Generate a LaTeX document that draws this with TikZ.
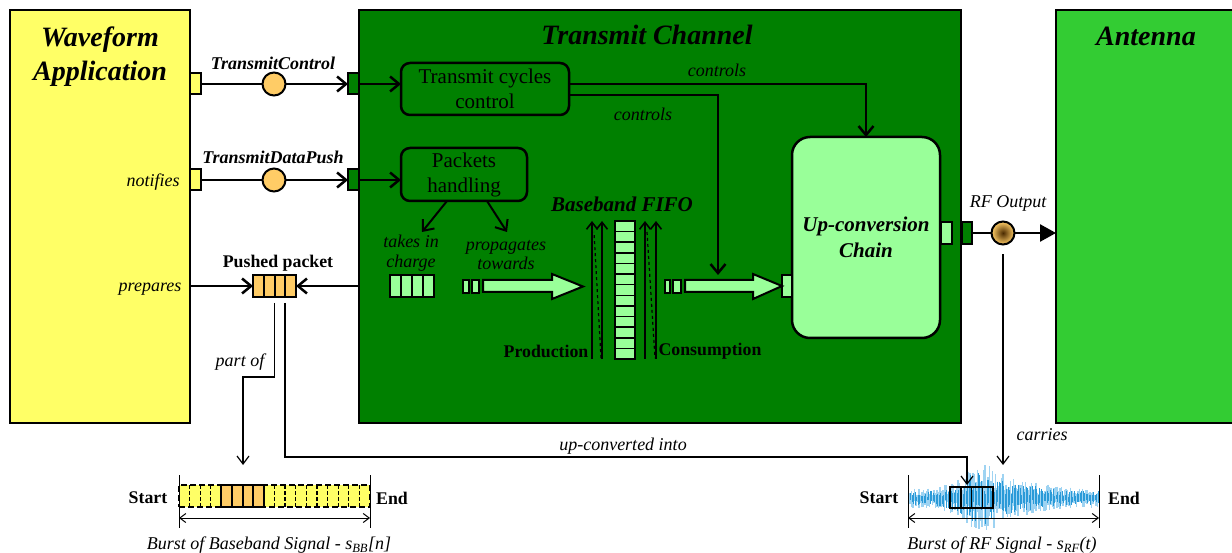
\documentclass[tikz,border=0pt]{standalone}
\usepackage{fontspec}
\setmainfont{Liberation Serif}
\usetikzlibrary{arrows.meta}
\definecolor{wayel}{HTML}{FFFF66}
\definecolor{tcgreen}{HTML}{008000}
\definecolor{antgreen}{HTML}{33CC33}
\definecolor{lgreen}{HTML}{99FF99}
\definecolor{pkorange}{HTML}{FFCC66}
\definecolor{wave}{HTML}{2A9AD8}
\definecolor{wavelight}{HTML}{9ED3F2}
\definecolor{rfdark}{HTML}{4A2A00}
\newcommand{\fsz}[2]{\fontsize{#1}{#2}\selectfont}
\begin{document}
\begin{tikzpicture}[x=1pt,y=-1pt,
  box/.style={draw, line width=2.5pt, inner sep=0pt, outer sep=0pt},
  rbox/.style={draw, line width=2.5pt, rounded corners=9pt, inner sep=0pt, outer sep=0pt, align=center, font=\fsz{21}{25}},
  port/.style={draw, line width=2pt, inner sep=0pt, outer sep=0pt, minimum width=11pt, minimum height=21pt},
  iface/.style={circle, draw, line width=2pt, fill=pkorange, minimum size=23pt, inner sep=0pt},
  conn/.style={line width=2.5pt, -{Straight Barb[length=9pt,width=15pt]}},
  thinarr/.style={line width=1.2pt, -{Straight Barb[length=8pt,width=12pt]}},
  fifoarr/.style={line width=1.6pt, -{Straight Barb[length=7pt,width=11pt]}},
  dimarr/.style={line width=1pt, {Straight Barb[length=6pt,width=9pt]}-{Straight Barb[length=6pt,width=9pt]}},
  pktbox/.style={draw, line width=2pt, inner sep=0pt, outer sep=0pt},
  title/.style={font=\fsz{28}{34}\bfseries\itshape, align=center, inner sep=0pt},
  lbl/.style={font=\fsz{18}{19.5}\itshape, align=center, inner sep=0pt},
  blbl/.style={font=\fsz{18}{20}\bfseries\itshape, inner sep=0pt},
  bl/.style={font=\fsz{17.8}{20}\bfseries, inner sep=0pt},
  bigarrow/.style={draw, line width=2pt, fill=lgreen, line join=miter},
]
\useasboundingbox (0,0) rectangle (1232,553);
\clip (0,0) rectangle (1232,553);
\fill[white] (0,0) rectangle (1232,553);

% main boxes
\node[box, fill=wayel, minimum width=180pt, minimum height=413pt] (wa) at (100,216.5) {};
\node[box, fill=tcgreen, minimum width=602pt, minimum height=413pt] (tc) at (660,216.5) {};
\node[box, fill=antgreen, minimum width=200pt, minimum height=413pt] (ant) at (1156,216.5) {};
\node[title] (waT) at (100,57) {Waveform\\Application};
\node[title, anchor=base] (tcT) at (647,45) {Transmit Channel};
\node[title, anchor=base] (antT) at (1146,46) {Antenna};

% inner boxes
\node[rbox, minimum width=168pt, minimum height=52pt] (tcc) at (485,89) {Transmit cycles\\control};
\node[rbox, minimum width=126pt, minimum height=53pt] (ph) at (464,174.5) {Packets\\handling};
\node[rbox, fill=lgreen, rounded corners=18pt, minimum width=148pt, minimum height=201pt, font=\fsz{21}{26}\bfseries\itshape] (ucc) at (866,237.5) {Up-conversion\\Chain};

% ports
\node[port, fill=wayel] (wp1) at (195.5,84) {};
\node[port, fill=wayel] (wp2) at (195.5,180) {};
\node[port, fill=tcgreen] (tp1) at (353.5,84) {};
\node[port, fill=tcgreen] (tp2) at (353.5,180) {};
\node[port, fill=lgreen, minimum width=10pt, minimum height=22pt] (upin) at (787,286) {};
\node[port, fill=lgreen, minimum height=22pt] (upout) at (946.5,233) {};
\node[port, fill=tcgreen, minimum width=10pt, minimum height=22pt] (tpout) at (967,233) {};

% interfaces
\draw[conn] (wp1.east) -- (tp1.west);
\draw[conn] (wp2.east) -- (tp2.west);
\node[iface] (ic1) at (274,84) {};
\node[iface] (ic2) at (274,180) {};
\node[blbl] (lTC) at (273,63) {TransmitControl};
\node[blbl] (lTDP) at (273,157) {TransmitDataPush};
\node[lbl] (lnot) at (153,182) {notifies};
\node[lbl] (lprep) at (150,289) {prepares};

\draw[conn] (tp1.east) -- (tp1.east -| tcc.west);
\draw[conn] (tp2.east) -- (tp2.east -| ph.west);

% controls
\coordinate (ctrl2) at (718,275);
\draw[conn] ([yshift=5pt]tcc.east) -| (ucc.north);
\draw[conn] ([yshift=-6pt]tcc.east) -| (ctrl2);
\node[lbl] (lc1) at (717,70) {controls};
\node[lbl] (lc2) at (643,114) {controls};

% pushed packet
\node[pktbox, fill=pkorange, minimum width=43pt, minimum height=22pt] (pp) at (274.5,286) {};
\foreach \k in {1,2,3} \draw[line width=2pt] ({253+\k*10.75},275) -- ({253+\k*10.75},297);
\node[bl] (lpp) at (278,263) {Pushed packet};
\draw[conn] (wa.east |- pp) -- (pp.west);
\draw[conn] (tc.west |- pp) -- (pp.east);

% packets handling outputs
\coordinate (takeend) at (422,232);
\coordinate (propend) at (507,232);
\draw[conn, line width=2pt] ([xshift=-17pt]ph.south) -- (takeend);
\draw[conn, line width=2pt] ([xshift=23pt]ph.south) -- (propend);
\node[lbl] (ltake) at (411,253) {takes in\\charge};
\node[lbl] (lprop) at (506,255) {propagates\\towards};

% small packet
\node[pktbox, fill=lgreen, minimum width=44pt, minimum height=22pt] (tic) at (412,286) {};
\foreach \k in {1,2,3} \draw[line width=2pt] ({390+\k*11},275) -- ({390+\k*11},297);

% samples + big arrow 1
\draw[line width=1.6pt, fill=lgreen] (463,280) rectangle (469,293);
\draw[line width=1.6pt, fill=lgreen] (472,280) rectangle (479,293);
\draw[bigarrow] (483,280) -- (552,280) -- (552,274) -- (583,286.5) -- (552,299) -- (552,292) -- (483,292) -- cycle;

% FIFO
\node[pktbox, line width=1.5pt, fill=lgreen, minimum width=20pt, minimum height=138pt] (fifo) at (625,290) {};
\foreach \k in {1,...,12} \draw[line width=1.5pt] (615,{221+\k*138/13}) -- (635,{221+\k*138/13});
\node[blbl, font=\fsz{21}{24}\bfseries\itshape] (lfifo) at (622,204) {Baseband FIFO};
\draw[fifoarr] (592,359) -- (592,221);
\draw[fifoarr] (602,359) -- (602,221);
\draw[line width=1.2pt, dashed] (601,358) -- (594,232);
\draw[fifoarr] (645,359) -- (645,221);
\draw[fifoarr] (656,359) -- (656,221);
\draw[line width=1.2pt, dashed] (647,232) -- (655,358);
\node[bl] (lprod) at (546,351) {Production};
\node[bl] (lcons) at (710,351) {Consumption};

% samples + big arrow 2
\draw[line width=1.6pt, fill=lgreen] (665,280) rectangle (670,293);
\draw[line width=1.6pt, fill=lgreen] (673,280) rectangle (681,293);
\draw[bigarrow] (685,280) -- (753,280) -- (753,274) -- (upin.west) -- (753,299) -- (753,292) -- (685,292) -- cycle;

% RF output
\draw[line width=2.5pt, -{Triangle[length=16pt,width=17pt]}] (tpout.east) -- (tpout.east -| ant.west);
\node[circle, draw, line width=2pt, minimum size=23pt, inner sep=0pt, shading=radial, inner color=rfdark, outer color=pkorange] (rfc) at (1003,233) {};
\node[lbl] (lrf) at (1008,203) {RF Output};
\coordinate (carryend) at (1003,465);
\draw[thinarr] ([yshift=-9pt]rfc.south) -- (carryend);
\node[lbl] (lcar) at (1042,435) {carries};

% baseband burst
\node[draw, dash pattern=on 6pt off 3pt, line width=1.6pt, fill=wayel, minimum width=191pt, minimum height=22pt, inner sep=0pt, outer sep=0pt] (bb) at (274.5,496) {};
\foreach \k in {1,...,17} \draw[line width=1.3pt, dash pattern=on 4pt off 2pt] ({179+\k*191/18},485) -- ({179+\k*191/18},507);
\node[pktbox, fill=pkorange, minimum width=42.4pt, minimum height=22pt] (bbp) at ({179+6*191/18},496) {};
\foreach \k in {5,6,7} \draw[line width=2pt] ({179+\k*191/18},485) -- ({179+\k*191/18},507);
\draw[line width=1pt] (179,475) -- (179,528);
\draw[line width=1pt] (370,475) -- (370,528);
\draw[dimarr] (179,518) -- (370,518);
\node[bl] (lbs) at (148,498) {Start};
\node[bl] (lbe) at (392,498) {End};
\node[lbl] (lbbcap) at (269,545) {Burst of Baseband Signal - \textit{s}\textsubscript{\textit{BB}}[\textit{n}]};

% RF burst
\pgfmathsetseed{12}
\foreach \i in {0,...,125} {
  \pgfmathsetmacro\xx{910+\i*1.5}
  \pgfmathsetmacro\aa{10 + 24*exp(-((\xx-982)/26)*((\xx-982)/26)) + 6*exp(-((\xx-1030)/25)*((\xx-1030)/25))}
  \pgfmathsetmacro\ya{498-\aa*(0.25+0.75*rnd)}
  \pgfmathsetmacro\yb{498+\aa*(0.25+0.75*rnd)}
  \draw[wavelight, line width=1.4pt] (\xx,\ya) -- (\xx,\yb);
}
\foreach \i in {0,...,125} {
  \pgfmathsetmacro\xx{910.7+\i*1.5}
  \pgfmathsetmacro\aa{7 + 20*exp(-((\xx-982)/26)*((\xx-982)/26)) + 5*exp(-((\xx-1030)/25)*((\xx-1030)/25))}
  \pgfmathsetmacro\ya{498-\aa*(0.15+0.85*rnd)}
  \pgfmathsetmacro\yb{498+\aa*(0.15+0.85*rnd)}
  \draw[wave, line width=0.9pt] (\xx,\ya) -- (\xx,\yb);
}
\node[draw, line width=1.5pt, minimum width=43pt, minimum height=21pt, inner sep=0pt, outer sep=0pt] (rfp) at (971.5,497.5) {};
\foreach \k in {1,2,3} \draw[line width=1.5pt] ({950+\k*10.75},487) -- ({950+\k*10.75},508);
\draw[line width=1pt] (908,475) -- (908,528);
\draw[line width=1pt] (1099,475) -- (1099,528);
\draw[dimarr] (908,518) -- (1099,518);
\node[bl] (lrs) at (879,498) {Start};
\node[bl] (lre) at (1124,498) {End};
\node[lbl] (lrfcap) at (1002,545) {Burst of RF Signal - \textit{s}\textsubscript{\textit{RF}}(\textit{t})};

% links from pushed packet
\coordinate (partofend) at (243,465);
\coordinate (upend) at (967,485);
\draw[thinarr] ([yshift=-6pt]pp.south) -- ++(0,74) -| (partofend);
\draw[thinarr] ([xshift=10.5pt,yshift=-6pt]pp.south) -- ++(0,154) -| (upend);
\node[lbl] (lpart) at (240,362) {part of};
\node[lbl] (lupc) at (623,446) {up-converted into};
\end{tikzpicture}
\end{document}
